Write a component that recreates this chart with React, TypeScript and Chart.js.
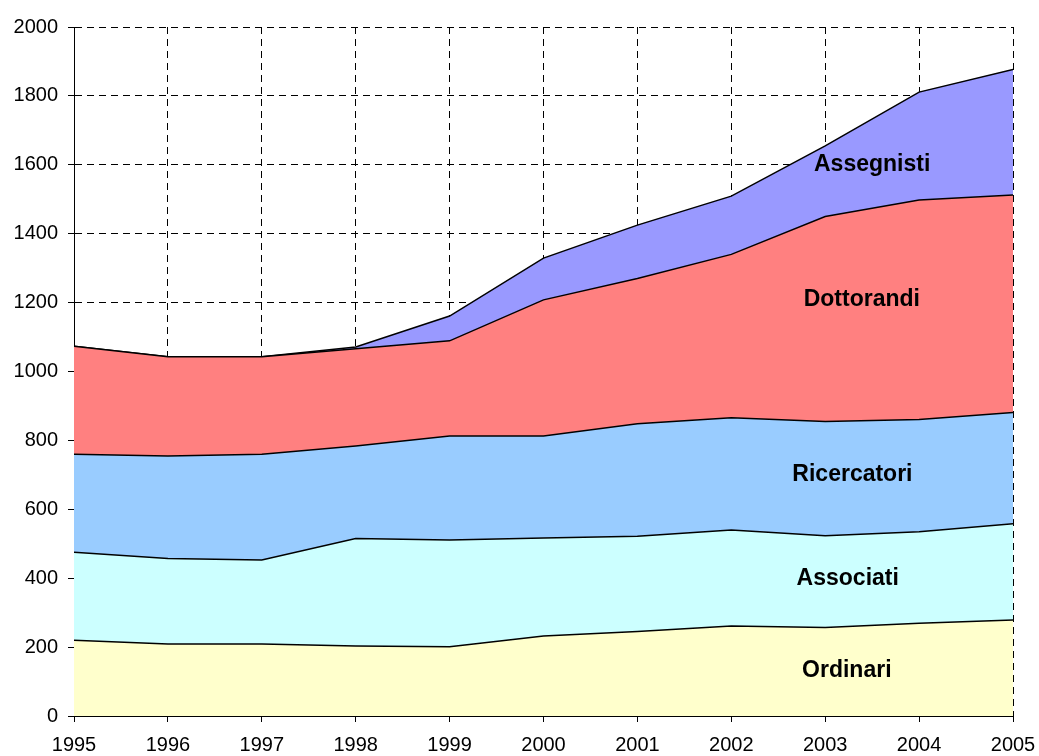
import React, { useEffect, useRef } from "react";
import { Chart, registerables } from "chart.js";

Chart.register(...registerables);

const years = [1995, 1996, 1997, 1998, 1999, 2000, 2001, 2002, 2003, 2004, 2005];
const ordinari = [220, 209, 209, 203, 201, 232, 245, 261, 257, 269, 279];
const associati = [255, 248, 244, 312, 310, 285, 277, 279, 266, 266, 279];
const ricercatori = [285, 298, 307, 269, 302, 296, 326, 326, 332, 326, 323];
const dottorandi = [313, 288, 283, 282, 276, 395, 422, 474, 595, 637, 631];
const assegnisti = [0, 0, 0, 5, 72, 121, 155, 169, 205, 313, 365];

const seriesNames = ["Ordinari", "Associati", "Ricercatori", "Dottorandi", "Assegnisti"];
const seriesColors = ["#FFFFCC", "#CCFFFF", "#99CCFF", "#FF8080", "#9999FF"];

// in-chart labels: [text, x (year), y (value)]
const labelTexts = ["Ordinari", "Associati", "Ricercatori", "Dottorandi", "Assegnisti"];
const labelX = [2003.23, 2003.24, 2003.29, 2003.39, 2003.5];
const labelY = [131, 398, 700, 1208, 1599];

const yTicks = [0, 200, 400, 600, 800, 1000, 1200, 1400, 1600, 1800, 2000];

export default function App() {
  const ref = useRef<HTMLCanvasElement | null>(null);
  useEffect(() => {
    document.body.style.margin = "0";
    const all = [ordinari, associati, ricercatori, dottorandi, assegnisti];
    const datasets = all.map((vals, i) => ({
      label: seriesNames[i],
      data: vals.map((v, j) => ({ x: years[j], y: v })),
      backgroundColor: seriesColors[i],
      borderColor: "#000000",
      borderWidth: 1.5,
      pointRadius: 0,
      tension: 0,
      fill: i === 0 ? "origin" : "-1",
    }));

    const labelPlugin = {
      id: "areaLabels",
      afterDatasetsDraw(chart: any) {
        const ctx = chart.ctx;
        const xs = chart.scales.x;
        const ys = chart.scales.y;
        ctx.save();
        ctx.font = "bold 23px 'Liberation Sans', Arial, sans-serif";
        ctx.fillStyle = "#000";
        ctx.textAlign = "center";
        ctx.textBaseline = "middle";
        labelTexts.forEach((t, i) => {
          ctx.fillText(t, xs.getPixelForValue(labelX[i]), ys.getPixelForValue(labelY[i]));
        });
        ctx.restore();
      },
    };

    const chart = new Chart(ref.current!, {
      type: "line",
      data: { datasets: datasets as any },
      options: {
        animation: false,
        responsive: false,
        devicePixelRatio: 1,
        layout: { padding: { top: 27, right: 26, left: 0, bottom: 0 } },
        plugins: { legend: { display: false }, tooltip: { enabled: false } },
        scales: {
          x: {
            type: "linear",
            min: 1995,
            max: 2005,
            afterFit: (s: any) => { s.height = 40; s.paddingLeft = 0; s.paddingRight = 0; },
            afterBuildTicks: (s: any) => { s.ticks = years.map((v) => ({ value: v })); },
            ticks: {
              stepSize: 1,
              autoSkip: false,
              maxRotation: 0,
              padding: 11,
              color: "#000",
              font: { family: "'Liberation Sans', Arial, sans-serif", size: 20 },
              callback: (v: any) => String(v),
            },
            grid: { color: "#000", lineWidth: 1, tickLength: 6, tickColor: "#000" },
            border: { display: true, color: "#000", width: 1, dash: [7, 5] },
          },
          y: {
            stacked: true,
            min: 0,
            max: 2000,
            afterFit: (s: any) => { s.width = 74; s.paddingTop = 0; s.paddingBottom = 0; },
            afterBuildTicks: (s: any) => { s.ticks = yTicks.map((v) => ({ value: v })); },
            ticks: {
              stepSize: 200,
              padding: 10,
              color: "#000",
              font: { family: "'Liberation Sans', Arial, sans-serif", size: 20 },
              callback: (v: any) => String(v),
            },
            grid: { color: "#000", lineWidth: 1, tickLength: 6, tickColor: "#000" },
            border: { display: true, color: "#000", width: 1, dash: [7, 5] },
          },
        },
      },
      plugins: [labelPlugin],
    });
    return () => chart.destroy();
  }, []);
  return (
    <div style={{ width: 1039, height: 756, background: "#fff" }}>
      <canvas ref={ref} width={1039} height={756} />
    </div>
  );
}
